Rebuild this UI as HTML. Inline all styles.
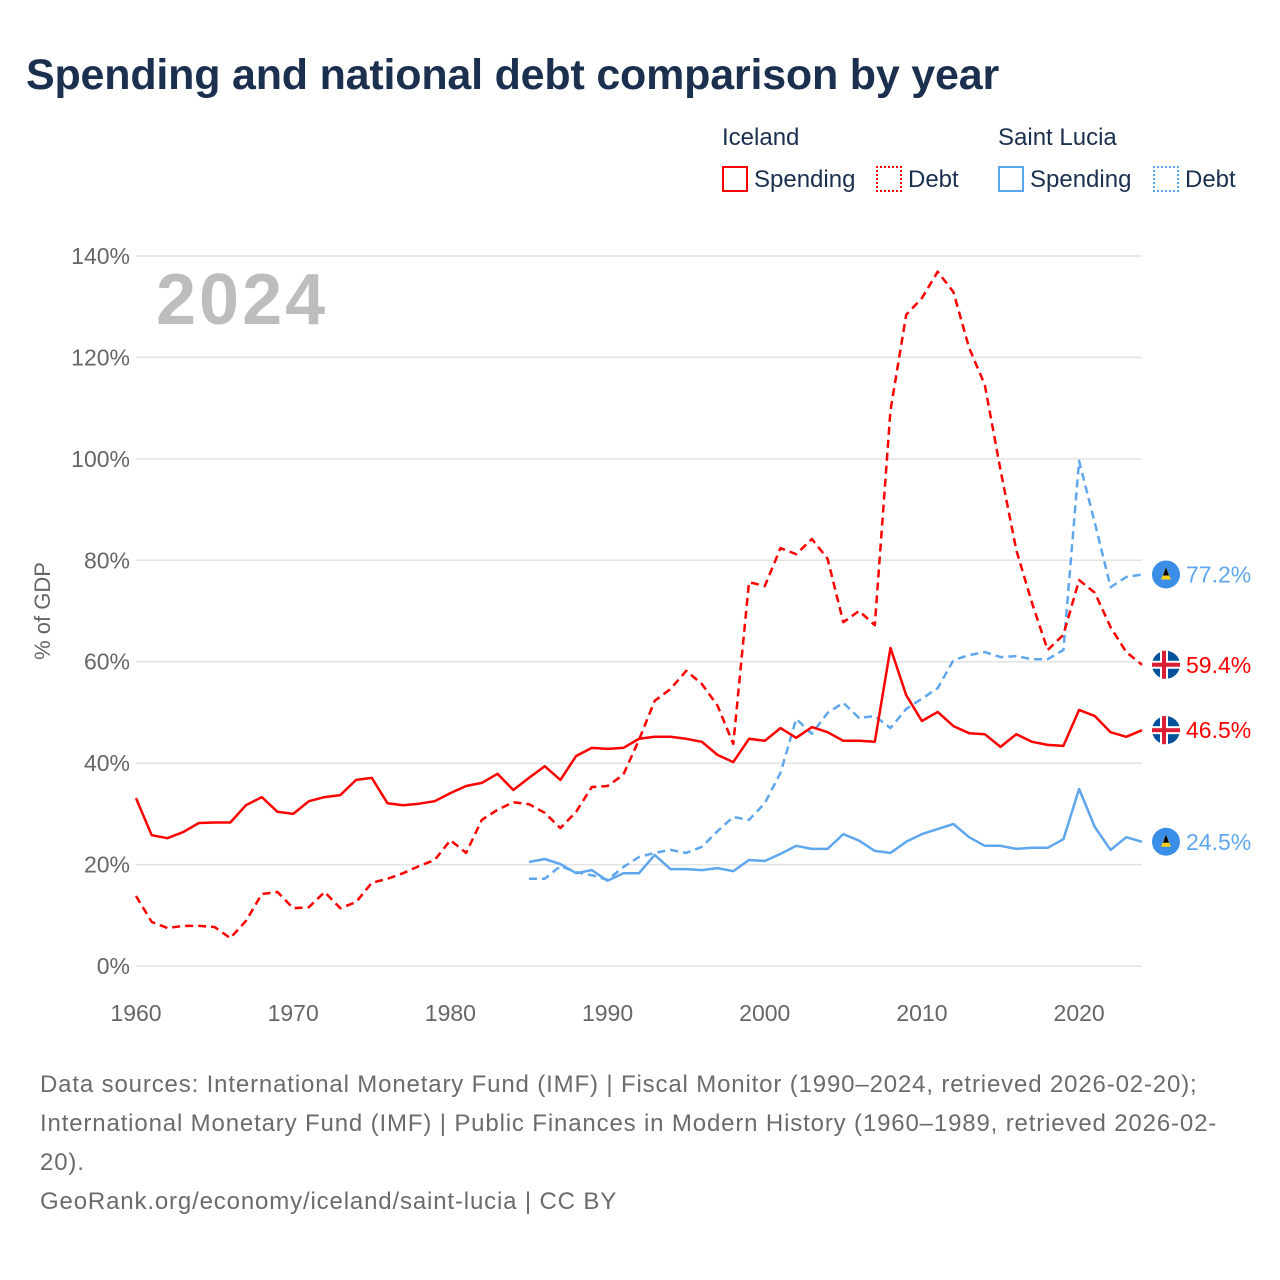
<!DOCTYPE html>
<html><head><meta charset="utf-8"><style>
body{margin:0;background:#fff;font-family:"Liberation Sans",sans-serif;}
#wrap{position:relative;width:1280px;height:1280px;overflow:hidden;}
.t{position:absolute;white-space:nowrap;}
</style></head><body>
<div id="wrap">
<div class="t" style="left:26px;top:51px;font-size:43px;font-weight:bold;color:#1b2f4e;letter-spacing:-0.2px;">Spending and national debt comparison by year</div>
<div class="t" style="left:722px;top:124px;font-size:24px;color:#1b2f4e;">Iceland</div>
<div class="t" style="left:998px;top:124px;font-size:24px;color:#1b2f4e;">Saint Lucia</div>
<div class="t" style="left:722px;top:166px;font-size:24px;color:#1b2f4e;"><span style="display:inline-block;width:22px;height:22px;border:2px solid #f00;vertical-align:-5px;margin-right:6px;"></span>Spending</div>
<div class="t" style="left:876px;top:166px;font-size:24px;color:#1b2f4e;"><span style="display:inline-block;width:22px;height:22px;border:2px dotted #f00;vertical-align:-5px;margin-right:6px;"></span>Debt</div>
<div class="t" style="left:998px;top:166px;font-size:24px;color:#1b2f4e;"><span style="display:inline-block;width:22px;height:22px;border:2px solid #5aa5ee;vertical-align:-5px;margin-right:6px;"></span>Spending</div>
<div class="t" style="left:1153px;top:166px;font-size:24px;color:#1b2f4e;"><span style="display:inline-block;width:22px;height:22px;border:2px dotted #5aa5ee;vertical-align:-5px;margin-right:6px;"></span>Debt</div>
<svg id="chart" width="1280" height="1060" style="position:absolute;left:0;top:0;"></svg>
<div class="t" style="left:40px;top:1065px;font-size:24px;line-height:39px;color:#6b6b6b;white-space:normal;width:1200px;letter-spacing:0.85px;">Data sources: International Monetary Fund (IMF) | Fiscal Monitor (1990–2024, retrieved 2026-02-20); International Monetary Fund (IMF) | Public Finances in Modern History (1960–1989, retrieved 2026-02-20).<br>GeoRank.org/economy/iceland/saint-lucia | CC BY</div>
</div>
<script>
const isSpend=[33.1,25.8,25.2,26.4,28.2,28.3,28.3,31.7,33.3,30.4,30.0,32.5,33.3,33.7,36.7,37.1,32.1,31.7,32.0,32.5,34.1,35.5,36.1,37.9,34.7,37.1,39.4,36.7,41.4,43.0,42.8,43.0,44.8,45.2,45.2,44.8,44.2,41.6,40.2,44.8,44.4,46.9,45.0,47.1,46.1,44.4,44.4,44.2,62.7,53.4,48.3,50.1,47.3,45.9,45.7,43.2,45.7,44.2,43.6,43.4,50.5,49.3,46.1,45.2,46.5];
const isDebt=[13.8,8.7,7.5,7.9,7.9,7.7,5.5,8.9,14.2,14.6,11.4,11.6,14.6,11.4,12.6,16.4,17.2,18.3,19.7,20.9,24.8,22.3,28.8,30.8,32.3,31.9,30.2,27.2,30.4,35.3,35.5,37.7,44.6,52.3,54.6,58.2,55.6,51.3,43.8,75.7,74.9,82.4,81.2,84.2,80.3,67.8,70.0,67.2,109.6,128.4,131.7,136.9,132.9,121.9,114.6,97.8,82.0,71.6,62.3,65.3,76.1,73.6,66.8,61.9,59.4];
const lcSpend=[20.5,21.1,20.1,18.3,18.9,16.8,18.3,18.3,21.9,19.1,19.1,18.9,19.3,18.7,20.9,20.7,22.1,23.7,23.1,23.1,26.0,24.7,22.7,22.3,24.5,26.0,27.0,28.0,25.4,23.7,23.7,23.1,23.3,23.3,25.0,34.9,27.4,22.9,25.4,24.5];
const lcDebt=[17.2,17.2,19.7,18.5,17.9,17.0,19.5,21.5,22.3,22.9,22.3,23.5,26.6,29.4,28.8,32.1,38.1,48.7,45.8,49.9,51.9,48.9,49.3,46.9,50.7,52.7,54.8,60.3,61.3,61.9,60.9,61.1,60.5,60.5,62.3,99.6,87.4,74.7,76.7,77.2];
const yTicks=[0,20,40,60,80,100,120,140];
const xTicks=[1960,1970,1980,1990,2000,2010,2020];
const NS='http://www.w3.org/2000/svg';
const svg=document.getElementById('chart');
const X=y=>136+(y-1960)*(1142-136)/64;
const Y=v=>966-v*(966-256)/140;
function mk(t,a){const e=document.createElementNS(NS,t);for(const k in a)e.setAttribute(k,a[k]);svg.appendChild(e);return e;}
yTicks.forEach(v=>{
 const l=mk('line',{x1:136,x2:1142,y1:Y(v),y2:Y(v),stroke:'#e3e3e3','stroke-width':1.5});
 
 
 const t=mk('text',{x:130,y:Y(v)+8,'text-anchor':'end','font-size':23,fill:'#666','font-family':'Liberation Sans'});
 t.textContent=v+'%';
 
 
});
xTicks.forEach(v=>{
 const t=mk('text',{x:X(v),y:1021,'text-anchor':'middle','font-size':23,fill:'#666','font-family':'Liberation Sans'});
 t.textContent=v;
 
 
});
const yt=mk('text',{x:50,y:611,'text-anchor':'middle','font-size':22,fill:'#666','font-family':'Liberation Sans',transform:'rotate(-90 50 611)'});
yt.textContent='% of GDP';


const yr=mk('text',{x:156,y:324,'font-size':72,'font-weight':'bold',fill:'#bdbdbd','font-family':'Liberation Sans','letter-spacing':'3'});
yr.textContent='2024';


function series(arr,start,color,dash,name){
 const d=arr.map((v,i)=>(i?'L':'M')+X(start+i).toFixed(1)+','+Y(v).toFixed(1)).join('');
 const p=mk('path',{d:d,fill:'none',stroke:color,'stroke-width':2.5,'stroke-linejoin':'round'});
 if(dash)p.setAttribute('stroke-dasharray','8,5');
 
 
}
series(lcDebt,1985,'#5ea7ee',true,'line-saint-lucia-debt');
series(lcSpend,1985,'#5ea7ee',false,'line-saint-lucia-spending');
series(isDebt,1960,'#ff0000',true,'line-iceland-debt');
series(isSpend,1960,'#ff0000',false,'line-iceland-spending');
function endLabel(v,color,flag,name){
 const cx=1166,cy=Y(v);
 const g=document.createElementNS(NS,'g');svg.appendChild(g);
 
 
 const add=(t,a)=>{const e=document.createElementNS(NS,t);for(const k in a)e.setAttribute(k,a[k]);g.appendChild(e);return e;};
 if(flag==='is'){
  add('circle',{cx:cx,cy:cy,r:14,fill:'#02529c'});
  add('rect',{x:cx-14,y:cy-4,width:28,height:8,fill:'#fff'});
  add('rect',{x:cx-6,y:cy-14,width:8,height:28,fill:'#fff'});
  add('rect',{x:cx-14,y:cy-2,width:28,height:4,fill:'#dc1e35'});
  add('rect',{x:cx-4,y:cy-14,width:4,height:28,fill:'#dc1e35'});
 } else {
  add('circle',{cx:cx,cy:cy,r:14,fill:'#3b8ee8'});
  add('polygon',{points:`${cx},${cy-7} ${cx-5},${cy+5} ${cx+5},${cy+5}`,fill:'#fcd116'});
  add('polygon',{points:`${cx},${cy-7} ${cx-3},${cy+1} ${cx+3},${cy+1}`,fill:'#000'});
 }
 const t=add('text',{x:1186,y:cy+8,'font-size':23,fill:color,'font-family':'Liberation Sans'});
 t.textContent=v.toFixed(1)+'%';
}
endLabel(lcDebt[lcDebt.length-1],'#5ea7ee','lc','end-label-saint-lucia-debt');
endLabel(isDebt[isDebt.length-1],'#ff0000','is','end-label-iceland-debt');
endLabel(isSpend[isSpend.length-1],'#ff0000','is','end-label-iceland-spending');
endLabel(lcSpend[lcSpend.length-1],'#5ea7ee','lc','end-label-saint-lucia-spending');
</script>
</body></html>
